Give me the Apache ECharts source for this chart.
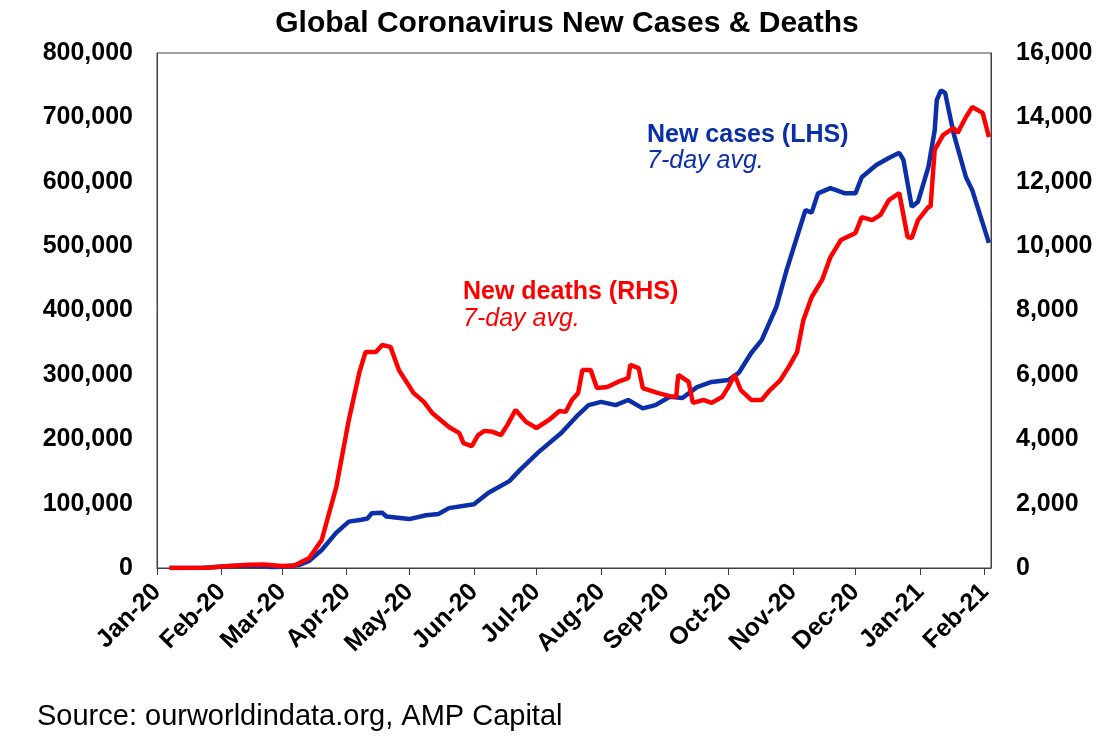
<!DOCTYPE html>
<html>
<head>
<meta charset="UTF-8">
<script src="https://cdn.jsdelivr.net/npm/echarts@6/dist/echarts.min.js"></script>
<style>
  html, body { margin: 0; padding: 0; background: #fff; }
  #chart { width: 1108px; height: 753px; }
</style>
</head>
<body>
<div id="chart"></div>
<script>
// 7-day avg new cases (LHS)
var caseDates = [
  '2020-01-07','2020-01-22','2020-02-05','2020-02-14','2020-02-25','2020-03-01','2020-03-09','2020-03-14',
  '2020-03-20','2020-03-27','2020-04-02','2020-04-08','2020-04-11','2020-04-13','2020-04-18','2020-04-20',
  '2020-05-01','2020-05-09','2020-05-15','2020-05-20','2020-06-01','2020-06-08','2020-06-18','2020-06-23',
  '2020-07-02','2020-07-13','2020-07-21','2020-07-26','2020-08-01','2020-08-08','2020-08-14','2020-08-21',
  '2020-08-27','2020-09-03','2020-09-09','2020-09-16','2020-09-23','2020-10-01','2020-10-06','2020-10-12',
  '2020-10-17','2020-10-24','2020-10-29','2020-11-04','2020-11-07','2020-11-10','2020-11-13','2020-11-19',
  '2020-11-26','2020-12-01','2020-12-04','2020-12-11','2020-12-17','2020-12-22','2020-12-24','2020-12-28',
  '2020-12-31','2021-01-05','2021-01-08','2021-01-09','2021-01-11','2021-01-13','2021-01-15','2021-01-17',
  '2021-01-23','2021-01-26','2021-02-03'
];
var caseValues = [
  0, 100, 3000, 4000, 1500, 1800, 4500, 11000,
  28000, 55000, 72000, 75000, 77000, 85000, 86000, 80000,
  76000, 82000, 84000, 93000, 99000, 117000, 135000, 152000,
  180000, 210000, 238000, 253000, 258000, 253000, 261000, 248000,
  253000, 266000, 264000, 281000, 289000, 292000, 303000, 334000,
  354000, 405000, 463000, 525000, 556000, 552000, 582000, 590000,
  582000, 582000, 607000, 626000, 637000, 645000, 634000, 561000,
  569000, 623000, 680000, 727000, 742000, 738000, 707000, 676000,
  607000, 587000, 505000
];

// 7-day avg new deaths (RHS)
var deathDates = [
  '2020-01-07','2020-01-25','2020-02-05','2020-02-14','2020-02-21','2020-03-01','2020-03-07','2020-03-14',
  '2020-03-20','2020-03-27','2020-04-02','2020-04-07','2020-04-10','2020-04-15','2020-04-18','2020-04-22',
  '2020-04-26','2020-04-30','2020-05-03','2020-05-08','2020-05-12','2020-05-16','2020-05-20','2020-05-25',
  '2020-05-27','2020-05-31','2020-06-03','2020-06-06','2020-06-10','2020-06-14','2020-06-17','2020-06-21',
  '2020-06-26','2020-07-01','2020-07-07','2020-07-12','2020-07-15','2020-07-18','2020-07-21','2020-07-23',
  '2020-07-27','2020-07-30','2020-08-04','2020-08-09','2020-08-14','2020-08-15','2020-08-19','2020-08-21',
  '2020-08-28','2020-09-03','2020-09-06','2020-09-07','2020-09-12','2020-09-14','2020-09-19','2020-09-23',
  '2020-09-28','2020-10-01','2020-10-04','2020-10-07','2020-10-12','2020-10-17','2020-10-21','2020-10-26',
  '2020-10-30','2020-11-03','2020-11-06','2020-11-10','2020-11-15','2020-11-19','2020-11-24','2020-12-01',
  '2020-12-04','2020-12-09','2020-12-13','2020-12-17','2020-12-22','2020-12-26','2020-12-28','2020-12-31',
  '2021-01-05','2021-01-06','2021-01-08','2021-01-12','2021-01-17','2021-01-19','2021-01-23','2021-01-26',
  '2021-01-31','2021-02-03'
];
var deathValues = [
  0, 10, 60, 100, 110, 60, 80, 310,
  870, 2520, 4600, 6060, 6710, 6710, 6930, 6870,
  6150, 5750, 5440, 5160, 4815, 4600, 4380, 4190,
  3880, 3790, 4130, 4260, 4230, 4130, 4440, 4910,
  4540, 4350, 4600, 4880, 4850, 5220, 5440, 6150,
  6150, 5590, 5620, 5780, 5900, 6310, 6210, 5590,
  5440, 5340, 5310, 6000, 5780, 5130, 5220, 5130,
  5310, 5620, 6000, 5530, 5220, 5220, 5530, 5840,
  6250, 6710, 7700, 8420, 8950, 9660, 10190, 10410,
  10900, 10810, 10970, 11430, 11650, 10280, 10250, 10810,
  11220, 11220, 12990, 13450, 13670, 13520, 14010, 14320,
  14140, 13390
];

var monthNames = ['Jan','Feb','Mar','Apr','May','Jun','Jul','Aug','Sep','Oct','Nov','Dec'];
var leftTicks = [0, 100000, 200000, 300000, 400000, 500000, 600000, 700000, 800000];
var rightTicks = [0, 2000, 4000, 6000, 8000, 10000, 12000, 14000, 16000];

// one category per day, 1 Jan 2020 to 4 Feb 2021
var days = [];
var d = Date.UTC(2020, 0, 1);
var end = Date.UTC(2021, 1, 4);
for (; d <= end; d += 86400000) {
  days.push(new Date(d).toISOString().slice(0, 10));
}

function pairs(dates, vals) {
  return dates.map(function (x, i) { return [x, vals[i]]; });
}
function isMonthStart(idx, val) { return val.slice(8) === '01'; }
function fmtNum(v) { return v.toLocaleString('en-US'); }

var FONT = "'Liberation Sans', Arial, sans-serif";
var BLUE = '#0A2FA8';
var RED = '#FF0000';

var chart = echarts.init(document.getElementById('chart'));
chart.setOption({
  animation: false,
  backgroundColor: '#fff',
  grid: {
    left: 157, right: 117, top: 53, bottom: 185,
    show: true, borderColor: '#404040', borderWidth: 1
  },
  xAxis: {
    type: 'category',
    data: days,
    boundaryGap: false,
    axisLine: { lineStyle: { color: '#404040', width: 1 } },
    axisTick: { interval: isMonthStart, length: 7, lineStyle: { color: '#404040' } },
    axisLabel: {
      interval: isMonthStart,
      rotate: 45,
      margin: 20,
      fontFamily: FONT, fontSize: 25, fontWeight: 'bold', color: '#000',
      formatter: function (v) {
        return monthNames[+v.slice(5, 7) - 1] + '-' + v.slice(2, 4);
      }
    },
    splitLine: { show: false }
  },
  yAxis: [
    {
      type: 'value', min: leftTicks[0], max: leftTicks[leftTicks.length - 1],
      interval: leftTicks[1] - leftTicks[0],
      axisLine: { show: true, lineStyle: { color: '#404040' } },
      axisTick: { show: false },
      splitLine: { show: false },
      axisLabel: { margin: 24, fontFamily: FONT, fontSize: 25, fontWeight: 'bold', color: '#000', formatter: fmtNum }
    },
    {
      type: 'value', min: rightTicks[0], max: rightTicks[rightTicks.length - 1],
      interval: rightTicks[1] - rightTicks[0],
      axisLine: { show: true, lineStyle: { color: '#404040' } },
      axisTick: { show: false },
      splitLine: { show: false },
      axisLabel: { margin: 25, fontFamily: FONT, fontSize: 25, fontWeight: 'bold', color: '#000', formatter: fmtNum }
    }
  ],
  series: [
    {
      name: 'New cases (LHS)',
      type: 'line',
      yAxisIndex: 0,
      data: pairs(caseDates, caseValues),
      showSymbol: false,
      lineStyle: { color: BLUE, width: 4.5 },
      itemStyle: { color: BLUE },
      z: 2
    },
    {
      name: 'New deaths (RHS)',
      type: 'line',
      yAxisIndex: 1,
      data: pairs(deathDates, deathValues),
      showSymbol: false,
      lineStyle: { color: RED, width: 4.5 },
      itemStyle: { color: RED },
      z: 3
    }
  ],
  graphic: [
    { type: 'text', x: 567, y: 24, style: { text: 'Global Coronavirus New Cases & Deaths', fill: '#000', font: 'bold 30px ' + FONT, align: 'center', verticalAlign: 'middle' } },
    { type: 'text', x: 647, y: 135, style: { text: 'New cases (LHS)', fill: BLUE, font: 'bold 25px ' + FONT, verticalAlign: 'middle' } },
    { type: 'text', x: 647, y: 161, style: { text: '7-day avg.', fill: BLUE, font: 'italic 25px ' + FONT, verticalAlign: 'middle' } },
    { type: 'text', x: 463, y: 292, style: { text: 'New deaths (RHS)', fill: RED, font: 'bold 25px ' + FONT, verticalAlign: 'middle' } },
    { type: 'text', x: 463, y: 319, style: { text: '7-day avg.', fill: RED, font: 'italic 25px ' + FONT, verticalAlign: 'middle' } },
    { type: 'text', x: 37, y: 717, style: { text: 'Source: ourworldindata.org, AMP Capital', fill: '#000', font: '29px ' + FONT, verticalAlign: 'middle' } }
  ]
});
</script>
</body>
</html>
